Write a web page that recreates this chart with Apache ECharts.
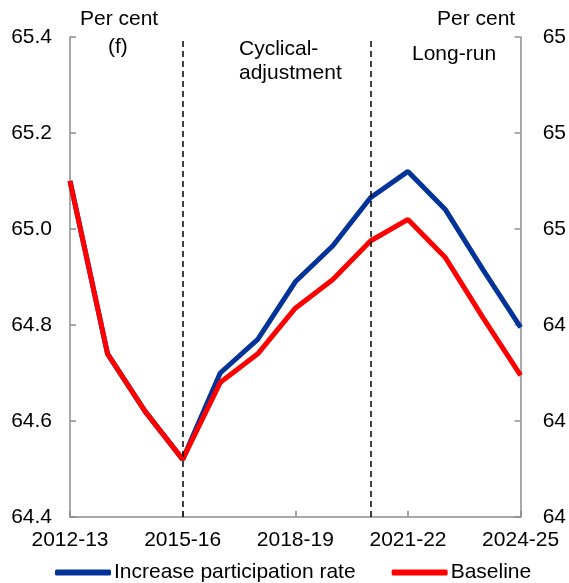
<!DOCTYPE html>
<html>
<head>
<meta charset="utf-8">
<script src="https://cdn.jsdelivr.net/npm/echarts@6/dist/echarts.min.js"></script>
<style>
  * { padding: 0; margin: 0; }
  body { background: #fff; }
</style>
</head>
<body>
<div id="chart" style="width: 569px; height: 583px"></div>
<script>
var categories = ["2012-13", "2013-14", "2014-15", "2015-16", "2016-17", "2017-18", "2018-19",
  "2019-20", "2020-21", "2021-22", "2022-23", "2023-24", "2024-25"];
var increaseRate = [65.10, 64.74, 64.62, 64.52, 64.70, 64.77, 64.89, 64.965, 65.065, 65.12, 65.04, 64.915, 64.795];
var baseline = [65.10, 64.74, 64.62, 64.52, 64.68, 64.74, 64.835, 64.895, 64.975, 65.02, 64.94, 64.815, 64.695];
var phaseBreaks = ["2015-16", "2020-21"];

var font = "Liberation Sans, Arial, sans-serif";
var axisGrey = "#8c8c8c";

var chart = echarts.init(document.getElementById("chart"));

function yAxisOpt(pos, fmt) {
  return {
    type: "value",
    position: pos,
    min: 64.4,
    max: 65.4,
    interval: 0.2,
    axisLine: { show: true, lineStyle: { color: axisGrey, width: 1.5 } },
    axisTick: { show: true, inside: true, length: 6, lineStyle: { color: axisGrey, width: 1.5 } },
    splitLine: { show: false },
    axisLabel: {
      margin: pos === "left" ? 18 : 22,
      color: "#000",
      fontSize: 21,
      fontFamily: font,
      formatter: fmt
    }
  };
}

chart.setOption({
  animation: false,
  grid: { left: 70, right: 43, top: 37, bottom: 66 },
  xAxis: {
    type: "category",
    data: categories,
    boundaryGap: false,
    axisLine: { lineStyle: { color: axisGrey, width: 1.5 } },
    axisTick: { inside: true, length: 6, interval: 2, lineStyle: { color: axisGrey, width: 1.5 } },
    axisLabel: { interval: 2, margin: 13, color: "#000", fontSize: 21, fontFamily: font },
    splitLine: { show: false }
  },
  yAxis: [
    yAxisOpt("left", function (v) { return v.toFixed(1); }),
    yAxisOpt("right", function (v) { return String(Math.floor(v + 1e-9)); })
  ],
  legend: {
    left: 50,
    top: 557,
    itemWidth: 56,
    itemHeight: 6,
    itemGap: 36,
    icon: "roundRect",
    textStyle: { color: "#000", fontSize: 21, fontFamily: font, padding: [0, 0, 0, -2] },
    data: ["Increase participation rate", "Baseline"]
  },
  graphic: [
    { type: "text", left: 80, top: 9, style: { text: "Per cent", fontSize: 21, fontFamily: font, fill: "#000" } },
    { type: "text", left: 437, top: 9, style: { text: "Per cent", fontSize: 21, fontFamily: font, fill: "#000" } },
    { type: "text", left: 108, top: 37, style: { text: "(f)", fontSize: 21, fontFamily: font, fill: "#000" } },
    { type: "text", left: 239, top: 37, style: { text: "Cyclical-\nadjustment", fontSize: 21, lineHeight: 24, fontFamily: font, fill: "#000" } },
    { type: "text", left: 412, top: 44, style: { text: "Long-run", fontSize: 21, fontFamily: font, fill: "#000" } }
  ],
  series: [
    {
      name: "Increase participation rate",
      type: "line",
      data: increaseRate,
      showSymbol: false,
      color: "#023399",
      lineStyle: { width: 5, color: "#023399" }
    },
    {
      name: "Baseline",
      type: "line",
      data: baseline,
      showSymbol: false,
      color: "#ff0000",
      lineStyle: { width: 5, color: "#ff0000" },
      markLine: {
        silent: true,
        symbol: "none",
        label: { show: false },
        lineStyle: { color: "#000", type: [6, 4], width: 1.5 },
        data: phaseBreaks.map(function (c) { return { xAxis: c }; })
      }
    }
  ]
});
</script>
</body>
</html>
